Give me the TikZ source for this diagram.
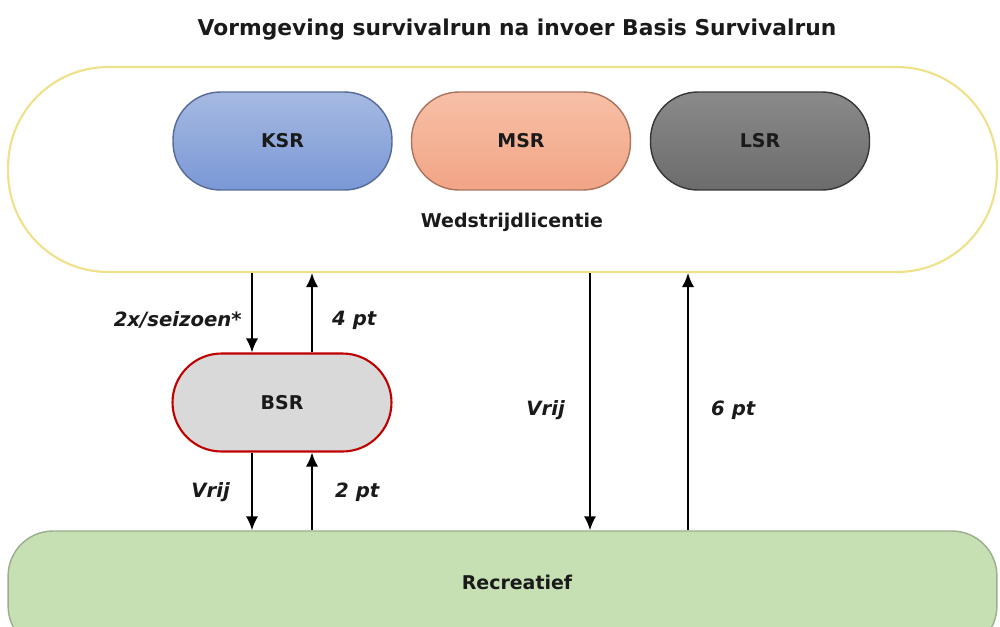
\documentclass[tikz,border=0pt]{standalone}
\usepackage{fontspec}
\setmainfont{DejaVu Sans}
\usetikzlibrary{arrows.meta}
\definecolor{wlstroke}{HTML}{EFE08A}
\definecolor{ksrtop}{HTML}{A6B9E2}
\definecolor{ksrbot}{HTML}{7A98D6}
\definecolor{msrtop}{HTML}{F7C0A6}
\definecolor{msrbot}{HTML}{F2A486}
\definecolor{lsrtop}{HTML}{8A8A8A}
\definecolor{lsrbot}{HTML}{6C6C6C}
\definecolor{bsrfill}{HTML}{D9D9D9}
\definecolor{bsrstroke}{HTML}{C00000}
\definecolor{recfill}{HTML}{C6E0B4}
\definecolor{recstroke}{HTML}{98AE8C}
\definecolor{txt}{HTML}{1A1A1A}
\tikzset{
  lbl/.style={text=txt, font=\bfseries\fontsize{10.8}{12}\selectfont},
  ilbl/.style={text=txt, font=\bfseries\itshape\fontsize{11.2}{13}\selectfont},
  pill/.style={rectangle, rounded corners=0.95cm, minimum width=4.38cm, minimum height=1.96cm, line width=0.8pt, text=txt, font=\bfseries\fontsize{10.8}{12}\selectfont},
  arr/.style={-{Latex[length=8pt,width=7pt]}, line width=1.1pt, black},
}
\begin{document}
\begin{tikzpicture}[x=0.02cm,y=-0.02cm]
\fill[white] (0,0) rectangle (1000,626);
\useasboundingbox (0,0) rectangle (1000,626);
\node[text=txt, font=\bfseries\fontsize{12.4}{14}\selectfont] (title) at (517,30) {Vormgeving survivalrun na invoer Basis Survivalrun};
% outer licence box
\node[rectangle, draw=wlstroke, line width=1.2pt, rounded corners=2cm, minimum width=19.78cm, minimum height=4.1cm] (wl) at (502.5,169.5) {};
\node[lbl] (wltext) at (512,222) {Wedstrijdlicentie};
\node[pill, draw=ksrbot!70!black, top color=ksrtop, bottom color=ksrbot] (ksr) at (282.5,141) {KSR};
\node[pill, draw=msrbot!70!black, top color=msrtop, bottom color=msrbot] (msr) at (521,141) {MSR};
\node[pill, draw=lsrbot!50!black, top color=lsrtop, bottom color=lsrbot] (lsr) at (760,141) {LSR};
% BSR
\node[pill, draw=bsrstroke, fill=bsrfill, line width=1.2pt, rounded corners=0.98cm] (bsr) at (282,402.5) {BSR};
% Recreatief
\node[rectangle, draw=recstroke, fill=recfill, line width=0.8pt, rounded corners=0.9cm, minimum width=19.78cm, minimum height=2.4cm] (rec) at (502.5,591) {};
\node[lbl] (rectext) at (517,582) {Recreatief};
% connectors
\coordinate (xa) at (252,0);
\coordinate (xb) at (312,0);
\coordinate (xc) at (590,0);
\coordinate (xd) at (688,0);
\draw[arr] (wl.south -| xa) -- (bsr.north -| xa);
\draw[arr] (bsr.north -| xb) -- (wl.south -| xb);
\draw[arr] (bsr.south -| xa) -- (rec.north -| xa);
\draw[arr] (rec.north -| xb) -- (bsr.south -| xb);
\draw[arr] (wl.south -| xc) -- (rec.north -| xc);
\draw[arr] (rec.north -| xd) -- (wl.south -| xd);
% labels
\node[ilbl, anchor=east] (l1) at (248,320) {2x/seizoen*};
\node[ilbl, anchor=west] (l2) at (326,320) {4 pt};
\node[ilbl, anchor=east] (l3) at (236,492) {Vrij};
\node[ilbl, anchor=west] (l4) at (329,492) {2 pt};
\node[ilbl, anchor=east] (l5) at (571,410) {Vrij};
\node[ilbl, anchor=west] (l6) at (705,410) {6 pt};
\end{tikzpicture}
\end{document}
